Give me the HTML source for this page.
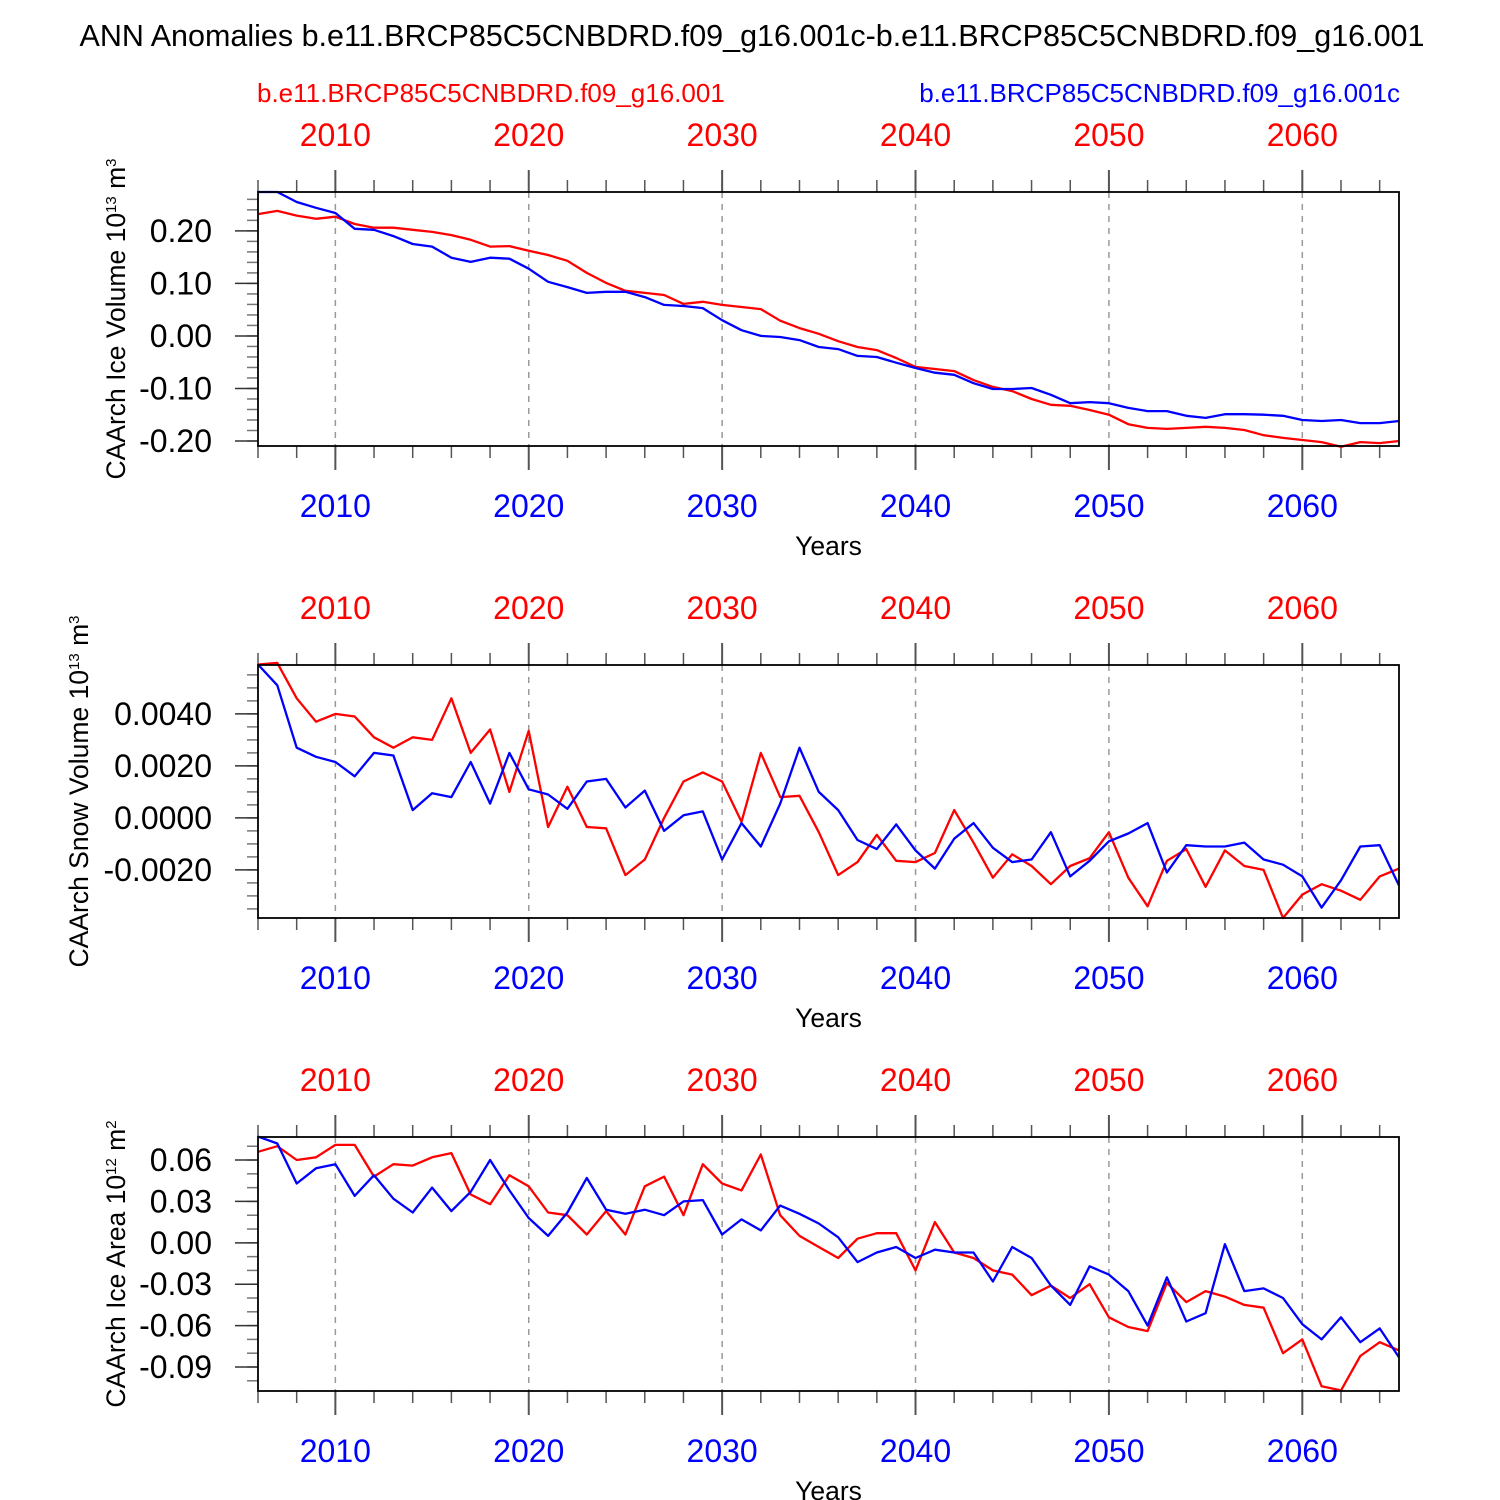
<!DOCTYPE html>
<html><head><meta charset="utf-8"><style>
html,body{margin:0;padding:0;background:#fff}
svg{display:block;font-family:"Liberation Sans",sans-serif}
</style></head><body>
<svg id="c" width="1500" height="1500" viewBox="0 0 1500 1500">
<text x="752" y="46" font-size="30.5" text-anchor="middle">ANN Anomalies b.e11.BRCP85C5CNBDRD.f09_g16.001c-b.e11.BRCP85C5CNBDRD.f09_g16.001</text>
<text x="257" y="102" font-size="26" fill="#f00">b.e11.BRCP85C5CNBDRD.f09_g16.001</text>
<text x="1400" y="102" font-size="26" fill="#00f" text-anchor="end">b.e11.BRCP85C5CNBDRD.f09_g16.001c</text>
</svg>
<script>
const years = [];
for (let y = 2006; y <= 2065; y++) years.push(y);
const iceVolRed = [0.232,0.238,0.229,0.223,0.227,0.213,0.206,0.206,0.202,0.198,0.192,0.183,0.170,0.171,0.162,0.154,0.143,0.120,0.101,0.086,0.082,0.078,0.061,0.065,0.059,0.055,0.051,0.029,0.015,0.004,-0.010,-0.021,-0.027,-0.042,-0.059,-0.063,-0.067,-0.084,-0.097,-0.105,-0.120,-0.131,-0.133,-0.141,-0.150,-0.168,-0.175,-0.177,-0.175,-0.173,-0.175,-0.179,-0.189,-0.194,-0.198,-0.202,-0.211,-0.202,-0.204,-0.200];
const iceVolBlue = [0.274,0.274,0.255,0.244,0.234,0.204,0.202,0.190,0.175,0.170,0.149,0.141,0.149,0.147,0.128,0.103,0.093,0.082,0.084,0.084,0.074,0.059,0.057,0.053,0.030,0.011,0.000,-0.002,-0.008,-0.021,-0.025,-0.038,-0.040,-0.051,-0.061,-0.070,-0.074,-0.090,-0.101,-0.101,-0.099,-0.112,-0.128,-0.126,-0.128,-0.137,-0.143,-0.143,-0.152,-0.156,-0.149,-0.149,-0.150,-0.152,-0.160,-0.162,-0.160,-0.166,-0.166,-0.162];
const snowRed = [5.9,5.96,4.6,3.7,4.0,3.9,3.1,2.7,3.1,3.0,4.6,2.5,3.4,1.0,3.35,-0.35,1.2,-0.35,-0.4,-2.2,-1.6,0,1.4,1.75,1.4,-0.15,2.5,0.8,0.85,-0.55,-2.2,-1.7,-0.65,-1.65,-1.7,-1.35,0.3,-0.95,-2.3,-1.4,-1.85,-2.55,-1.85,-1.55,-0.55,-2.3,-3.4,-1.65,-1.2,-2.65,-1.25,-1.85,-2.0,-3.85,-2.95,-2.55,-2.8,-3.15,-2.25,-1.95].map(v=>v/1000);
const snowBlue = [5.9,5.1,2.7,2.35,2.15,1.6,2.5,2.4,0.3,0.95,0.8,2.15,0.55,2.5,1.1,0.9,0.35,1.4,1.5,0.4,1.05,-0.5,0.1,0.25,-1.6,-0.2,-1.1,0.55,2.7,1.0,0.3,-0.85,-1.2,-0.25,-1.25,-1.95,-0.8,-0.2,-1.15,-1.7,-1.6,-0.55,-2.25,-1.65,-0.9,-0.6,-0.2,-2.1,-1.05,-1.1,-1.1,-0.95,-1.6,-1.8,-2.25,-3.45,-2.4,-1.1,-1.05,-2.6].map(v=>v/1000);
const areaRed = [0.066,0.070,0.060,0.062,0.071,0.071,0.048,0.057,0.056,0.062,0.065,0.035,0.028,0.049,0.041,0.022,0.020,0.006,0.023,0.006,0.041,0.048,0.020,0.057,0.043,0.038,0.064,0.020,0.005,-0.003,-0.011,0.003,0.007,0.007,-0.020,0.015,-0.007,-0.011,-0.020,-0.023,-0.038,-0.031,-0.040,-0.030,-0.054,-0.061,-0.064,-0.029,-0.043,-0.035,-0.039,-0.045,-0.047,-0.080,-0.070,-0.104,-0.107,-0.082,-0.072,-0.078];
const areaBlue = [0.077,0.072,0.043,0.054,0.057,0.034,0.049,0.032,0.022,0.040,0.023,0.037,0.060,0.038,0.018,0.005,0.022,0.047,0.024,0.021,0.024,0.020,0.030,0.031,0.006,0.017,0.009,0.027,0.021,0.014,0.004,-0.014,-0.007,-0.003,-0.011,-0.005,-0.007,-0.007,-0.028,-0.003,-0.011,-0.031,-0.045,-0.017,-0.023,-0.035,-0.060,-0.025,-0.057,-0.051,-0.001,-0.035,-0.033,-0.040,-0.059,-0.070,-0.054,-0.072,-0.062,-0.083];
const decadeLabels = ["2010","2020","2030","2040","2050","2060"];
const iceVolTicks = ["0.20","0.10","0.00","-0.10","-0.20"];
const snowTicks = ["0.0040","0.0020","0.0000","-0.0020"];
const areaTicks = ["0.06","0.03","0.00","-0.03","-0.06","-0.09"];

const svg = document.getElementById('c');
const NS = 'http://www.w3.org/2000/svg';
function mk(tag, attrs, parent){const e=document.createElementNS(NS,tag);for(const k in attrs)e.setAttribute(k,attrs[k]);(parent||svg).appendChild(e);return e;}
const X0=258,X1=1399;
const xs = y => X0 + (y-2006)/(2065-2006)*(X1-X0);

const panels = [
 {top:192,bot:446,vmax:0.274,vmin:-0.2095,ticks:iceVolTicks,minor:0.02,red:iceVolRed,blue:iceVolBlue,lx:117,label:['CAArch Ice Volume 10','13',' m','3'],name:'ice-volume'},
 {top:665,bot:918,vmax:0.00588,vmin:-0.00385,ticks:snowTicks,minor:0.0005,red:snowRed,blue:snowBlue,lx:80,label:['CAArch Snow Volume 10','13',' m','3'],name:'snow-volume'},
 {top:1137,bot:1391,vmax:0.0767,vmin:-0.1074,ticks:areaTicks,minor:0.01,red:areaRed,blue:areaBlue,lx:117,label:['CAArch Ice Area 10','12',' m','2'],name:'ice-area'}
];
panels.forEach(p=>{
 const g=mk('g',{});
 
 
 const ys = v => p.top + (p.vmax-v)/(p.vmax-p.vmin)*(p.bot-p.top);
 decadeLabels.forEach(d=>{const x=xs(+d);mk('line',{x1:x,x2:x,y1:p.top,y2:p.bot,stroke:'#999','stroke-width':1.5,'stroke-dasharray':'6,6'},g);});
 for(let y=2006;y<=2065;y+=2){const x=xs(y);mk('line',{x1:x,x2:x,y1:p.top,y2:p.top-12,stroke:'#555','stroke-width':1.5},g);mk('line',{x1:x,x2:x,y1:p.bot,y2:p.bot+12,stroke:'#555','stroke-width':1.5},g);}
 decadeLabels.forEach(d=>{const x=xs(+d);mk('line',{x1:x,x2:x,y1:p.top,y2:p.top-22,stroke:'#555','stroke-width':2},g);mk('line',{x1:x,x2:x,y1:p.bot,y2:p.bot+24,stroke:'#555','stroke-width':2},g);
  const t1=mk('text',{x:x,y:p.top-46,'font-size':32,fill:'#f00','text-anchor':'middle'},g);t1.textContent=d;
  
  
  const t2=mk('text',{x:x,y:p.bot+71,'font-size':32,fill:'#00f','text-anchor':'middle'},g);t2.textContent=d;
  
  
 });
 const yt=mk('text',{x:(X0+X1)/2,y:p.bot+109,'font-size':26.5,'text-anchor':'middle'},g);yt.textContent='Years';
 
 
 const n0=Math.ceil(p.vmin/p.minor-1e-6),n1=Math.floor(p.vmax/p.minor+1e-6);
 for(let i=n0;i<=n1;i++){const y=ys(i*p.minor);mk('line',{x1:X0,x2:X0-11,y1:y,y2:y,stroke:'#777','stroke-width':1.5},g);}
 p.ticks.forEach(t=>{const y=ys(+t);mk('line',{x1:X0,x2:X0-23,y1:y,y2:y,stroke:'#333','stroke-width':1.5},g);
  const tt=mk('text',{x:X0-46,y:y+11,'font-size':32,'text-anchor':'end'},g);tt.textContent=t;
  
  
 });
 const lb=mk('text',{x:0,y:0,'font-size':26.5,'text-anchor':'middle',transform:`translate(${p.lx+8},${(p.top+p.bot)/2}) rotate(-90)`},g);
 
 
 const s=[[p.label[0],0],[p.label[1],1],[p.label[2],0],[p.label[3],1]];
 s.forEach(([t,sup])=>{const ts=mk('tspan',sup?{'font-size':15,'baseline-shift':'60%'}:{},lb);ts.textContent=t;});
 [['red',p.red],['blue',p.blue]].forEach(([c,arr])=>{
  const d=arr.map((v,i)=>(i?'L':'M')+xs(years[i]).toFixed(1)+','+ys(v).toFixed(1)).join('');
  const pl=mk('path',{d:d,fill:'none',stroke:c==='red'?'#f00':'#00f','stroke-width':2.3,'stroke-linejoin':'round'},g);
  
  
 });
 mk('rect',{x:X0,y:p.top,width:X1-X0,height:p.bot-p.top,fill:'none',stroke:'#000','stroke-width':1.8},g);
});
</script>
</body></html>
